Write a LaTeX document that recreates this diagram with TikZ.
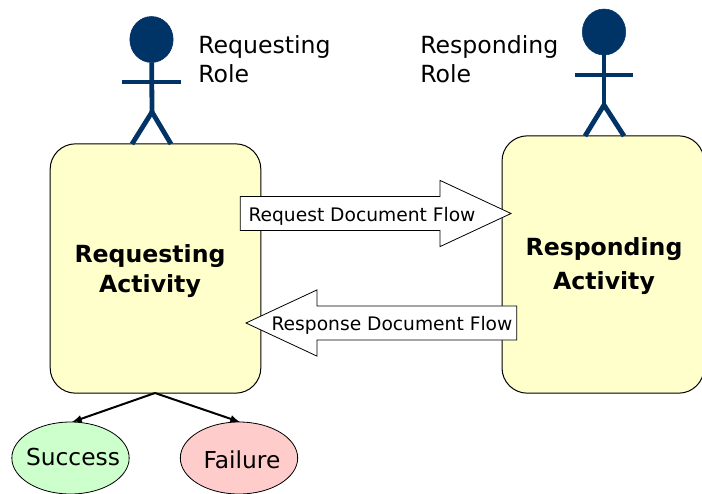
\documentclass[tikz,border=0pt]{standalone}
\usepackage{fontspec}
\setmainfont{DejaVu Sans}
\usepackage{tikz}
\usetikzlibrary{shapes.geometric, shapes.arrows}
\definecolor{rolecolor}{HTML}{003366}
\definecolor{activitycolor}{HTML}{FFFFCC}
\definecolor{successcolor}{HTML}{CCFFCC}
\definecolor{failurecolor}{HTML}{FFCCCC}
\tikzset{
    activity/.style = {draw, fill=activitycolor, rounded corners=19pt, line width=0.75pt, outer sep=0pt},
    activityname/.style = {align=center, inner sep=0pt, font=\fontsize{17.7}{22.5}\selectfont\bfseries},
    outcome/.style = {draw, ellipse, line width=0.6pt, minimum width=88pt, minimum height=54pt, inner sep=0pt},
    outcomename/.style = {inner sep=0pt, font=\fontsize{17.5}{20}\selectfont},
    rolename/.style = {anchor=north west, align=left, inner sep=0pt, font=\fontsize{17.7}{21.75}\selectfont},
    rolehead/.style = {draw=rolecolor, fill=rolecolor, ellipse, inner sep=0pt, minimum width=32.5pt, minimum height=34.5pt, outer sep=0pt},
    roleline/.style = {draw=rolecolor, line width=3.6pt},
    flowarrow/.style = {draw, fill=white, single arrow, line width=0.6pt, single arrow head extend=12pt, single arrow tip angle=50, minimum width=49pt, minimum height=203pt, inner xsep=0pt, inner ysep=0pt, outer sep=0pt, text height=17pt, text depth=8pt, anchor=tip},
    flowname/.style = {inner sep=0pt, font=\fontsize{14}{15}\selectfont},
    resultline/.style = {-latex, line width=1.5pt}
}
\begin{document}
\begin{tikzpicture}[x=0.75pt, y=-0.75pt]
    \useasboundingbox (0,0) rectangle (702,493);

    \node (reqact) [activity, minimum width=158pt, minimum height=187pt] at (155.5,268.5) {};
    \node (respact) [activity, minimum width=151.5pt, minimum height=193pt] at (603,264.5) {};
    \node (reqname) [activityname] at (150,271) {Requesting\\Activity};
    \node (respname) [activityname] at (604,266) {Responding\\[3pt]Activity};

    % requesting figure
    \node (reqhead) [rolehead] at (151.5,39.5) {};
    \coordinate (reqhip) at (152,112);
    \coordinate (reqfootl) at (132,144);
    \coordinate (reqfootr) at (171,144);
    \coordinate (reqarml) at (122,82);
    \coordinate (reqarmr) at (181,82);
    \draw [roleline] (reqhead) -- (reqhip);
    \draw [roleline] (reqarml) -- (reqarmr);
    \draw [roleline] (reqfootl) -- (reqhip) -- (reqfootr);
    \node (reqrole) [rolename] at (198,35) {Requesting\\Role};

    % responding figure
    \node (resphead) [rolehead] at (604,32) {};
    \coordinate (resphip) at (604,105);
    \coordinate (respfootl) at (585,136);
    \coordinate (respfootr) at (624,136);
    \coordinate (resparml) at (575,75);
    \coordinate (resparmr) at (633,75);
    \draw [roleline] (resphead) -- (resphip);
    \draw [roleline] (resparml) -- (resparmr);
    \draw [roleline] (respfootl) -- (resphip) -- (respfootr);
    \node (resprole) [rolename] at (420,35) {Responding\\Role};

    \node (reqflow) [flowarrow] at (511,213.5) {};
    \node (respflow) [flowarrow, shape border rotate=180] at (246,323) {};
    \node (reqflowname) [flowname] at (362,216.5) {Request Document Flow};
    \node (respflowname) [flowname] at (392,325) {Response Document Flow};

    \node (success) [outcome, fill=successcolor] at (70.5,458) {};
    \node (failure) [outcome, fill=failurecolor] at (239,458) {};
    \node (successname) [outcomename] at (73,457) {Success};
    \node (failurename) [outcomename] at (242,460) {Failure};
    \coordinate (split) at (155,393);
    \draw [resultline] (split) -- (72,422);
    \draw [resultline] (split) -- (240,422);
\end{tikzpicture}
\end{document}
